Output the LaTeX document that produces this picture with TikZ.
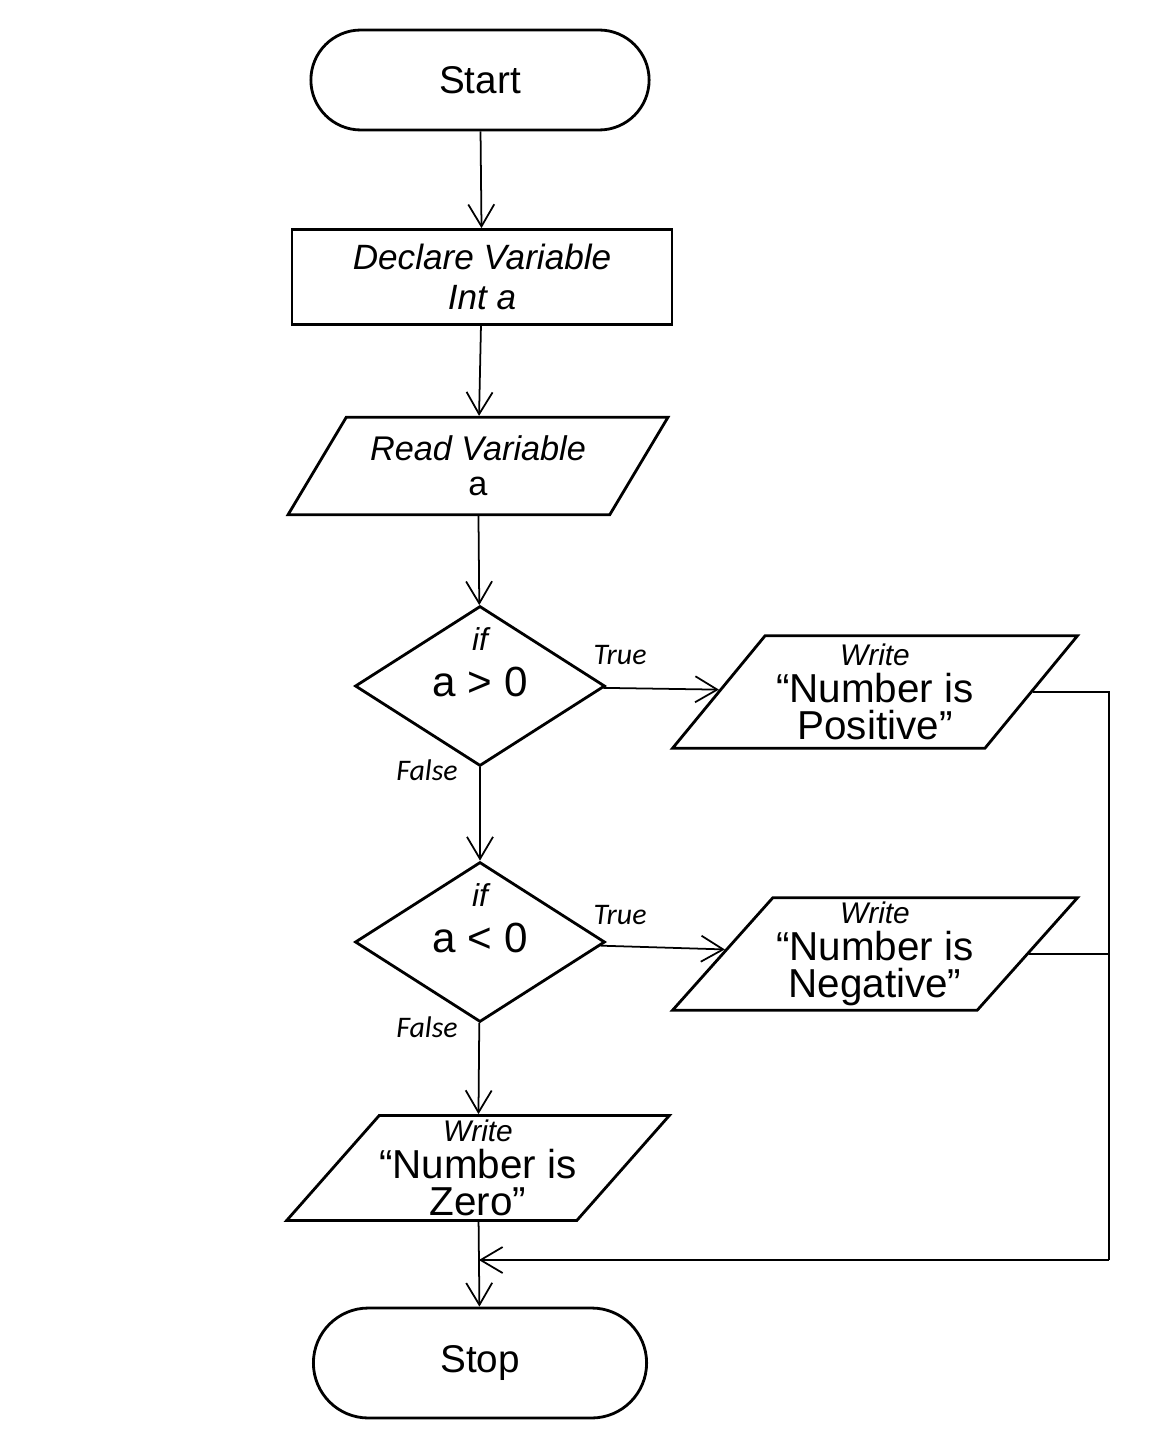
\documentclass[tikz,border=0pt]{standalone}
\usepackage{fontspec}
\setmainfont{Liberation Sans}
\newfontfamily\labelfont{Carlito}
\usetikzlibrary{shapes.geometric,shapes.misc,arrows.meta}

\begin{document}
\begin{tikzpicture}[x=0.02cm,y=-0.02cm,
  term/.style={draw, line width=1.6pt, rounded rectangle, minimum width=7cm, minimum height=2cm, font=\fontsize{22}{26}\selectfont},
  proc/.style={draw, line width=1.6pt, rectangle, minimum width=7.6cm, minimum height=1.9cm, align=center, font=\itshape\fontsize{20}{23}\selectfont},
  io/.style={draw, line width=1.6pt, trapezium, trapezium left angle=46, trapezium right angle=134, trapezium stretches body, align=center, inner sep=0pt},
  test/.style={draw, line width=1.6pt, diamond, aspect=1.56, minimum width=5cm, minimum height=3.2cm, inner sep=0pt, text height=0.8cm, text depth=0.4cm, align=center, font=\fontsize{24}{26}\selectfont},
  flow/.style={line width=1pt, -{Straight Barb[length=4.4mm,width=5.2mm]}},
  tf/.style={font=\labelfont\itshape\fontsize{17}{20}\selectfont}]
\useasboundingbox (0,0) rectangle (1175,1453);

\node[term] (start) at (480,80) {Start};
\node[proc] (declare) at (482,277) {Declare Variable\\Int a};
\node[io, minimum width=7.6cm, minimum height=1.95cm, font=\fontsize{19.5}{20}\selectfont] (read) at (478,466) {\textit{Read Variable}\\a};

\node[test] (if1) at (480,686) {{\fontsize{18}{20}\selectfont\itshape if}\\a > 0};
\node[io, minimum width=8.1cm, minimum height=2.25cm, font=\fontsize{23}{21}\selectfont] (pos) at (875,692) {{\fontsize{17}{21}\selectfont\itshape Write}\\“Number is\\Positive”};

\node[test] (if2) at (480,942) {{\fontsize{18}{20}\selectfont\itshape if}\\a < 0};
\node[io, minimum width=8.1cm, minimum height=2.25cm, font=\fontsize{23}{21}\selectfont] (neg) at (875,954) {{\fontsize{17}{21}\selectfont\itshape Write}\\“Number is\\Negative”};

\node[io, minimum width=7.6cm, minimum height=2.1cm, font=\fontsize{23}{21}\selectfont] (zero) at (478,1168) {{\fontsize{17}{21}\selectfont\itshape Write}\\“Number is\\Zero”};
\node[term, minimum width=6.9cm, minimum height=2.2cm] (stop) at (480,1363) {Stop};

\node[tf] (t1) at (620,655) {True};
\node[tf] (f1) at (427,770) {False};
\node[tf] (t2) at (620,915) {True};
\node[tf] (f2) at (427,1027) {False};

\draw[flow] (start) -- (declare);
\draw[flow] (declare) -- (read);
\draw[flow] (read) -- (if1);
\draw[flow] (if1) -- (pos);
\draw[flow] (if1) -- (if2);
\draw[flow] (if2) -- (neg);
\draw[flow] (if2) -- (zero);
\draw[flow] (zero) -- (stop);

\path (zero.south) -- (stop.north) coordinate[pos=0.45] (join);
\coordinate (railend) at ([xshift=12.6cm]join);
\draw[line width=1pt] (pos.east) -| (railend);
\draw[line width=1pt] (neg.east) -- (neg.east -| railend);
\draw[flow] (railend) -- (join);
\end{tikzpicture}
\end{document}
